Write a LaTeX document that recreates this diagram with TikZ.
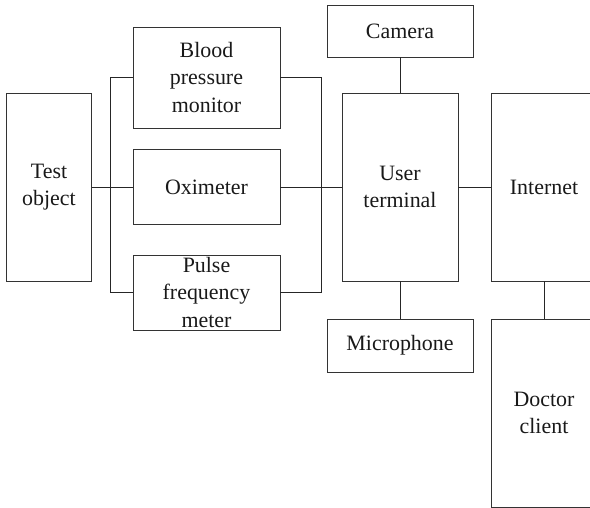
\documentclass[tikz,border=0pt]{standalone}
\usepackage{fontspec}
\setmainfont{Liberation Serif}
\begin{document}
\begin{tikzpicture}[x=1bp,y=-1bp,
  blk/.style={draw=black!80, line width=0.8bp, align=center, inner sep=0pt,
    font=\fontsize{22}{27.5}\selectfont, text=black!90},
  conn/.style={draw=black!85, line width=0.8bp}]
\useasboundingbox (0,0) rectangle (590,508);
\clip (0,0) rectangle (590,508);
\node[blk, minimum width=85bp, minimum height=188bp] (test) at (49,187) {Test\\object};
\node[blk, minimum width=147bp, minimum height=101bp] (bp) at (206.5,77.5) {Blood\\pressure\\monitor};
\node[blk, minimum width=147bp, minimum height=75bp] (oxi) at (206.5,187) {Oximeter};
\node[blk, minimum width=147bp, minimum height=75bp] (pulse) at (206.5,292.5) {Pulse\\frequency\\meter};
\node[blk, minimum width=146bp, minimum height=52bp] (cam) at (400,31) {Camera};
\node[blk, minimum width=116bp, minimum height=188bp] (user) at (400,187) {User\\terminal};
\node[blk, minimum width=146bp, minimum height=53bp] (mic) at (400,345.5) {Microphone};
\node[blk, minimum width=106bp, minimum height=188bp] (net) at (544,187) {Internet};
\node[blk, minimum width=106bp, minimum height=188bp] (doc) at (544,413) {Doctor\\client};
\draw[conn] (test.east) -- (oxi.west);
\draw[conn] (bp.west) -- ++(-22,0) |- (pulse.west);
\draw[conn] (bp.east) -- ++(41,0) |- (pulse.east);
\draw[conn] (oxi.east) -- (user.west);
\draw[conn] (cam.south) -- (user.north);
\draw[conn] (user.south) -- (mic.north);
\draw[conn] (user.east) -- (net.west);
\draw[conn] (net.south) -- (doc.north);
\end{tikzpicture}
\end{document}
